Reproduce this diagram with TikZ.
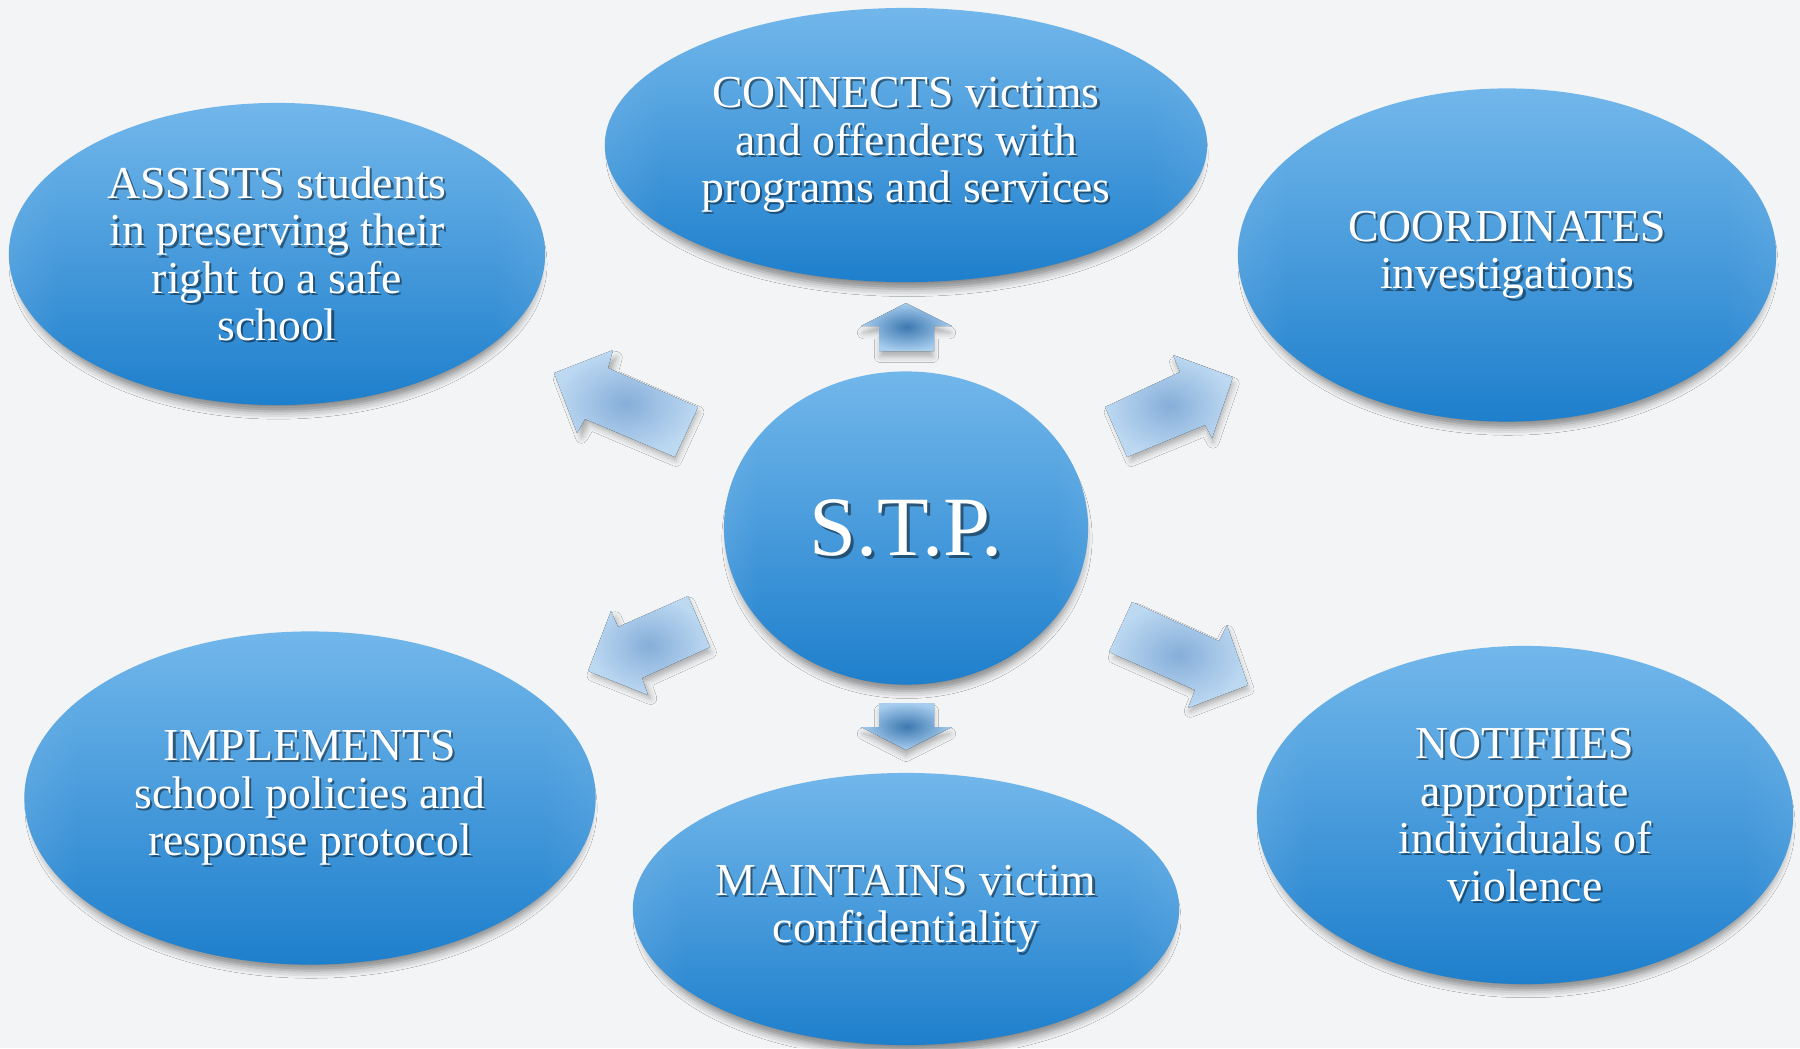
\documentclass[tikz,border=0pt]{standalone}
\usepackage{fontspec}
\setmainfont{Liberation Serif}
\usetikzlibrary{shapes.geometric,shadows.blur,fadings}

\definecolor{bg}{HTML}{F3F4F5}
\definecolor{bubtop}{HTML}{72B7EB}
\definecolor{bubmid}{HTML}{4A9FE0}
\definecolor{bubbot}{HTML}{1E7FCC}
\definecolor{bubrim}{HTML}{A9D3F5}
\definecolor{arrin}{HTML}{86AED9}
\definecolor{arrout}{HTML}{BDD9F2}
\definecolor{varrin}{HTML}{3C78B0}
\definecolor{varrout}{HTML}{A8CEEF}

% lighter rim on the left and right of every bubble
\pgfdeclarehorizontalshading{rimsh}{100bp}{color(0bp)=(pgftransparent!5); color(30bp)=(pgftransparent!100); color(70bp)=(pgftransparent!100); color(100bp)=(pgftransparent!25)}
\pgfdeclarefading{rim}{\pgfuseshading{rimsh}}

\tikzset{
  bub/.style={ellipse, inner sep=0pt, draw=none,
    top color=bubtop, middle color=bubmid, bottom color=bubbot,
    blur shadow={shadow xshift=0.3pt, shadow yshift=-3pt, shadow scale=0.975,
      shadow blur radius=2.2pt, shadow opacity=45},
    path picture={\fill[bubrim, path fading=rim]
      (path picture bounding box.south west) rectangle (path picture bounding box.north east);}},
  txt/.style={text=white, align=center, inner sep=0pt, font=\fontsize{13}{13.5}\selectfont},
  txtsh/.style={txt, text=black, opacity=0.45},
  bigtxt/.style={text=white, inner sep=0pt, font=\fontsize{24}{26}\selectfont},
  bigsh/.style={bigtxt, text=black, opacity=0.45},
  diagarrow/.style={inner color=arrin, outer color=arrout,
    blur shadow={shadow xshift=0.8pt, shadow yshift=-1.6pt, shadow scale=0.96,
      shadow blur radius=1.8pt, shadow opacity=30}},
  vertarrow/.style={inner color=varrin, outer color=varrout,
    blur shadow={shadow xshift=0pt, shadow yshift=-2pt, shadow scale=0.95,
      shadow blur radius=1.8pt, shadow opacity=30}}
}

% bubble with a soft text shadow: name, position, width, height, text
\newcommand\bubble[5]{%
  \node[bub, minimum width=#3, minimum height=#4] (#1) at #2 {};
  \node[txtsh] (#1-s) at ([xshift=0.6pt,yshift=-0.6pt]#1.center) {#5};
  \node[txt] (#1-t) at (#1.center) {#5};}

\begin{document}
\begin{tikzpicture}[x=0.01cm, y=-0.01cm]
  \fill[bg] (0,0) rectangle (1800,1048);
  \useasboundingbox (0,0) rectangle (1800,1048);

  % outer bubbles
  \bubble{con}{(906,145)}{6.02cm}{2.74cm}{CONNECTS victims\\and offenders with\\programs and services}
  \bubble{ast}{(277,254)}{5.36cm}{3.02cm}{ASSISTS students\\in preserving their\\right to a safe\\school}
  \bubble{crd}{(1507,255)}{5.38cm}{3.33cm}{COORDINATES\\investigations}
  \bubble{imp}{(310,798)}{5.71cm}{3.33cm}{IMPLEMENTS\\school policies and\\response protocol}
  \bubble{mnt}{(906,909)}{5.46cm}{2.72cm}{MAINTAINS victim\\confidentiality}
  \bubble{ntf}{(1525,815)}{5.36cm}{3.38cm}{NOTIFIIES\\appropriate\\individuals of\\violence}

  % central bubble
  \node[bub, minimum width=3.64cm, minimum height=3.13cm] (stp) at (906,528) {};
  \node[bigsh] (stp-s) at ([xshift=0.8pt,yshift=-0.8pt]stp.center) {S.T.P.};
  \node[bigtxt] (stp-t) at (stp.center) {S.T.P.};

  % block arrows pointing outward
  \fill[vertarrow] (906,303) -- (952,326) -- (934,326) -- (934,351) -- (879,351) -- (879,326) -- (861,326) -- cycle;
  \fill[vertarrow] (879,703) -- (934,703) -- (934,727) -- (952,727) -- (906,750) -- (861,727) -- (879,727) -- cycle;
  \fill[diagarrow] (698,407) -- (608,368) -- (613,350) -- (554,373) -- (577,433) -- (585,419) -- (675,457) -- cycle;
  \fill[diagarrow] (1105,407) -- (1180,372) -- (1173,355) -- (1233,377) -- (1212,438) -- (1205,425) -- (1127,457) -- cycle;
  \fill[diagarrow] (688,596) -- (618,627) -- (611,611) -- (588,671) -- (648,695) -- (642,678) -- (710,647) -- cycle;
  \fill[diagarrow] (1132,602) -- (1219,641) -- (1227,625) -- (1248,685) -- (1188,708) -- (1195,690) -- (1109,652) -- cycle;
\end{tikzpicture}
\end{document}
